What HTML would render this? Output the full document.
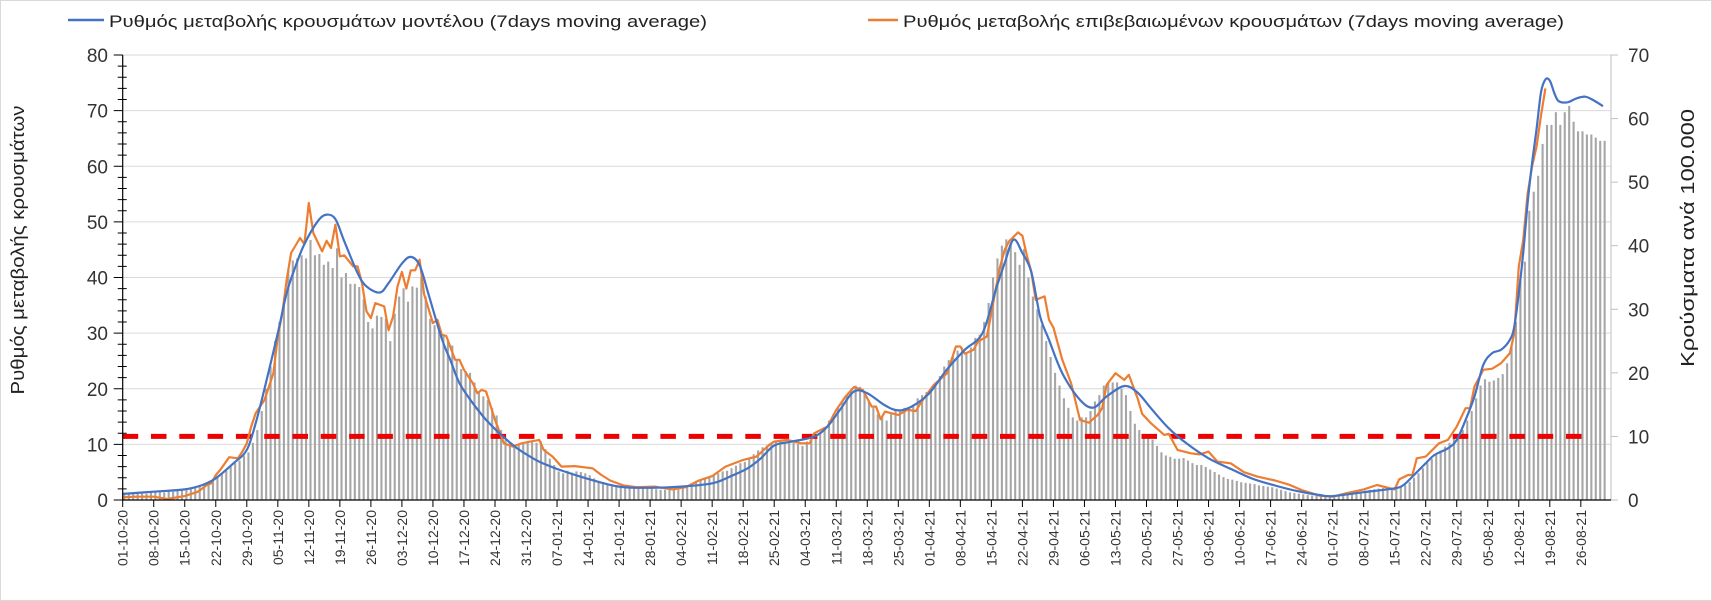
<!DOCTYPE html>
<html><head><meta charset="utf-8"><style>
html,body{margin:0;padding:0;background:#fff;}
svg{display:block;font-family:"Liberation Sans",sans-serif;}
</style></head><body>
<svg id="chart" width="1712" height="601" viewBox="0 0 1712 601" xmlns="http://www.w3.org/2000/svg">
<rect x="0.5" y="0.5" width="1711" height="600" fill="#fff" stroke="#d9d9d9"/>
<g id="grid"></g>
<g id="bars"></g>
<g id="lines"></g>
<g id="axes"></g>
<g>
 <line x1="68" y1="20" x2="104" y2="20" stroke="#4472c4" stroke-width="2.5"/>
 <text x="109" y="27" font-size="17" fill="#222" textLength="598" lengthAdjust="spacingAndGlyphs">Ρυθμός μεταβολής κρουσμάτων μοντέλου (7days moving average)</text>
 <line x1="868" y1="20" x2="898" y2="20" stroke="#ed7d31" stroke-width="2.5"/>
 <text x="903" y="27" font-size="17" fill="#222" textLength="661" lengthAdjust="spacingAndGlyphs">Ρυθμός μεταβολής επιβεβαιωμένων κρουσμάτων (7days moving average)</text>
</g>
<text transform="translate(24,250) rotate(-90)" text-anchor="middle" font-size="18" fill="#222" textLength="289" lengthAdjust="spacingAndGlyphs">Ρυθμός μεταβολής κρουσμάτων</text>
<text transform="translate(1694,238) rotate(-90)" text-anchor="middle" font-size="18" fill="#222" textLength="258" lengthAdjust="spacingAndGlyphs">Κρούσματα ανά 100.000</text>
</svg>
<script>
// ---- data ----
const startDate = "2020-10-01";
const dayCount = 335;
const weekLabels = ["01-10-20","08-10-20","15-10-20","22-10-20","29-10-20","05-11-20","12-11-20","19-11-20","26-11-20","03-12-20","10-12-20","17-12-20","24-12-20","31-12-20","07-01-21","14-01-21","21-01-21","28-01-21","04-02-21","11-02-21","18-02-21","25-02-21","04-03-21","11-03-21","18-03-21","25-03-21","01-04-21","08-04-21","15-04-21","22-04-21","29-04-21","06-05-21","13-05-21","20-05-21","27-05-21","03-06-21","10-06-21","17-06-21","24-06-21","01-07-21","08-07-21","15-07-21","22-07-21","29-07-21","05-08-21","12-08-21","19-08-21","26-08-21"];
const leftTicks = [0,10,20,30,40,50,60,70,80];
const rightTicks = [0,10,20,30,40,50,60,70];
const thresholdRight = 10;
// daily cases per 100k (right axis)
const cases = [
0.8,0.9,1.0,1.0,1.1,1.0,1.2, 1.2,1.3,1.2,1.4,1.3,1.5,1.6, 1.7,1.8,2.0,2.2,2.5,2.8,3.2, 3.8,4.2,4.6,5.2,5.8,6.2,7.0,
7.5,9,11,14,17.5,21,25, 28,31,36.2,37.7,38,38.5,38, 40.9,38.5,38.7,37,37.5,36.5,39.6, 35,35.7,34,34,33.5,31.6,28,
27,29,28.8,28.5,25,29.3,32, 33.3,31.2,33.6,33.4,35,32,28.5, 27.5,27,25.8,25,24.3,22,20.6, 20.3,20,18.5,17,16.3,15.7,14.5,
13.3,11,9.4,9,8.4,8.6,8.8, 9,9.1,9,9.2,8,6.5,5.5, 4.5,4.2,4.6,4.3,4.5,4.4,4.2, 3.9,3.4,3,2.7,2.5,2.4,2.2,
2.1,2,2,1.9,1.8,1.9,1.8, 1.8,1.7,1.6,1.6,1.7,1.8,1.9, 2,2.2,2.6,3,3.3,3.5,3.7, 3.8,4.2,4.5,4.6,5,5.4,5.8,
6,6.6,7.2,7.8,8.3,8.6,9, 9.2,9.4,9,9.3,9,8.8,8.5, 9.2,9.5,10,10.6,11.5,12.5,13.5, 14.5,15.5,16.5,17.5,18,17.8,17,
15.5,14.5,13.5,13,12.5,13.5,14, 14,14.5,14.5,15,16,16.5,17, 17.5,18.5,19.5,21,22,22.5,23.5, 24,23,24,25.5,26,28,31,
35,38,40,41,40.5,39,37, 39.5,35,32,30,27.5,25,22.5, 20,18,16,14.5,13,12.5,13, 13,14,15.5,16.5,18,18.5,18.5,
18.5,17.5,16.5,14,12,11,10, 10,9.5,8.5,7.5,7,6.8,6.5, 6.5,6.6,6.2,5.8,5.5,5.5,5.2, 4.8,4.4,4,3.6,3.3,3.2,3,
2.8,2.7,2.6,2.5,2.3,2.2,2.1, 2,1.8,1.6,1.4,1.2,1.1,1, 0.9,0.8,0.7,0.7,0.7,0.6,0.6, 0.7,0.8,0.9,1,1.1,1.2,1.3,
1.5,1.6,1.7,1.8,1.9,1.9,1.9, 2,2.2,2.4,2.8,3.5,4.2,5, 5.8,6.5,7.2,7.8,8.4,9,10, 10,11,12.5,14,16,18,19,
18.6,18.8,19.2,19.8,21.5,24.5,28, 35,37.5,45.5,48.5,51,56,59, 59,61,59,61,62,59.5,58, 58,57.5,57.5,57,56.5,56.5];
// model rate (left axis), sampled day index / value
const modelDays = [0,7,14,18,21,25,28,30,32,35,37,39,41,44,46,48,50,53,55,58,60,63,65,67,69,72,74,76,79,82,85,89,93,96,99,105,112,119,126,133,137,141,144,147,151,156,159,162,165,168,172,175,178,182,186,190,194,197,199,201,203,205,207,209,212,216,219,222,226,229,232,236,240,245,250,255,260,265,270,273,280,287,289,291,294,296,299,301,303,305,307,309,311,313,314,315,316,317,318,319,320,321,322,323,324,326,328,330,332,334];
const modelRate = [1.1,1.5,1.9,2.7,3.9,6.6,9.0,13.8,20,30,37.2,42,46,50.1,51.3,50.5,46.5,40.8,38.4,37.3,39,42.5,43.7,42.2,37,29,25,21,17.4,14.4,12,9.3,7.3,6.2,5.3,3.8,2.4,2.2,2.4,3,4.2,5.7,7.5,9.8,10.5,11.4,13.2,16.4,19.5,19.2,17,16.1,16.8,19.2,23.5,27,30,37.8,42.6,46.8,44.4,41,33,28.8,22.8,18,16.6,18.6,20.5,19.3,16.5,12.9,10.2,7.5,5.6,3.8,2.6,1.6,0.9,0.7,1.4,2.1,2.7,4.2,6.6,8.1,9.3,10.8,14.4,18.6,24.3,26.4,27,28.8,31.2,37.2,44.4,53.4,60.6,66.6,73.2,75.6,75.4,73.2,71.7,71.5,72.2,72.5,71.8,70.8];
// confirmed rate (left axis), sampled day index / value
const confDays = [0,3,7,10,14,17,19,20,21,22,23,24,26,27,28,29,30,32,34,35,36,37,38,40,41,42,43,45,46,47,48,49,50,52,53,54,55,56,57,59,60,61,62,63,64,65,66,67,68,70,71,72,73,75,76,77,79,80,81,82,84,86,88,90,92,94,95,97,99,102,106,108,110,113,116,120,124,127,130,133,136,140,143,146,147,150,153,155,156,159,161,163,165,167,169,170,171,172,175,177,179,180,183,186,188,189,190,192,193,195,196,197,198,199,200,202,203,204,205,206,208,209,210,212,214,216,218,220,221,222,224,226,227,229,230,232,235,236,238,241,243,245,247,250,253,256,260,263,266,270,273,276,280,283,287,288,290,291,292,294,297,299,300,301,303,304,305,307,309,311,313,314,315,316,317,318,319,320,321];
const confRate = [0.5,0.6,0.6,0.2,0.7,1.5,2.7,3,4.5,5.4,6.5,7.7,7.5,8.7,10.2,13.2,15.6,18,22.8,29.4,33.6,39.6,44.4,47.1,46,53.4,48,44.7,46.6,45.3,49.5,43.8,44,42,42,39,33.9,32.7,35.4,34.8,30.5,33,38.4,41,38,41.3,41.3,43.2,37,31.8,32.4,29.7,29.5,25.2,25.2,23.4,21,19.2,19.8,19.5,14.4,10.2,9.6,10.2,10.5,10.8,9,7.8,6,6.1,5.7,4.5,3.5,2.6,2.3,2.4,1.9,2.3,3.5,4.3,6,7.2,7.8,10,10.5,10.8,10.2,10.2,12,13.2,16.2,18.5,20.3,19.8,16.8,16.8,14.5,15.9,15.3,16.2,16,17.4,20.7,22.8,27.6,27.6,26.3,27,28.5,29.4,33.6,38,42,45,46.5,48.1,47.5,44,41,36,36.6,32.4,31,25.2,21,14.4,13.9,15.3,16.5,20.7,22.8,21.6,22.5,18.3,15.5,13.8,11.7,11.9,9,8.4,8.2,8.7,6.9,6.6,5,4.2,3.5,2.8,1.8,0.8,0.6,1.2,1.9,2.7,1.9,3.7,4.5,4.5,7.5,7.8,10.2,10.8,12,13.2,16.5,16.5,20.4,23.4,23.6,24.6,26.4,30,42,46.7,55,60,63.5,69,74];

// ---- scales ----
const X0 = 122.7, DX = 4.432, Y0 = 500, PLOT_TOP = 55, X_END = 1611;
const xDay = d => X0 + DX * d;
const yLeft = v => Y0 - v * (Y0 - PLOT_TOP) / 80;
const yRight = v => Y0 - v * (Y0 - PLOT_TOP) / 70;
const NS = "http://www.w3.org/2000/svg";
function mk(tag, parent, attrs) {
  const e = document.createElementNS(NS, tag);
  for (const k in attrs) e.setAttribute(k, attrs[k]);
  parent.appendChild(e);
  return e;
}
const grid = document.getElementById('grid');
const barsG = document.getElementById('bars');
const linesG = document.getElementById('lines');
const axes = document.getElementById('axes');

// gridlines
leftTicks.forEach(v => {
  if (v === 0) return;
  const g = mk('line', grid, {x1: X0, x2: X_END, y1: yLeft(v), y2: yLeft(v), stroke: '#d9d9d9', 'stroke-width': 1});
  
  
});

// bars
cases.forEach((v, i) => {
  const b = mk('rect', barsG, {x: xDay(i) + 0.6, y: yRight(v), width: 2.1, height: Math.max(0, Y0 - yRight(v)), fill: '#a6a6a6'});
  
  
});

// threshold
const th = mk('line', linesG, {x1: X0, x2: 1594, y1: yRight(thresholdRight), y2: yRight(thresholdRight), stroke: '#ee0000', 'stroke-width': 5, 'stroke-dasharray': '15.5 12.8'});



function smoothPath(days, vals) {
  const p = days.map((d, i) => [xDay(d), yLeft(vals[i])]);
  let s = 'M' + p[0][0].toFixed(1) + ',' + p[0][1].toFixed(1);
  for (let i = 0; i < p.length - 1; i++) {
    const p0 = p[i - 1] || p[i], p1 = p[i], p2 = p[i + 1], p3 = p[i + 2] || p2;
    const t = 1 / 6;
    const c1 = [p1[0] + (p2[0] - p0[0]) * t, p1[1] + (p2[1] - p0[1]) * t];
    const c2 = [p2[0] - (p3[0] - p1[0]) * t, p2[1] - (p3[1] - p1[1]) * t];
    s += 'C' + c1[0].toFixed(1) + ',' + c1[1].toFixed(1) + ' ' + c2[0].toFixed(1) + ',' + c2[1].toFixed(1) + ' ' + p2[0].toFixed(1) + ',' + p2[1].toFixed(1);
  }
  return s;
}
function polyPath(days, vals) {
  return days.map((d, i) => (i ? 'L' : 'M') + xDay(d).toFixed(1) + ',' + yLeft(vals[i]).toFixed(1)).join('');
}
const oc = mk('path', linesG, {d: polyPath(confDays, confRate), fill: 'none', stroke: '#ed7d31', 'stroke-width': 2.2, 'stroke-linejoin': 'round'});


const bm = mk('path', linesG, {d: smoothPath(modelDays, modelRate), fill: 'none', stroke: '#4472c4', 'stroke-width': 2.2});



// left axis
const la = mk('line', axes, {x1: X0, x2: X0, y1: PLOT_TOP, y2: Y0, stroke: '#000', 'stroke-width': 1.2});


for (let v = 0; v <= 80; v += 2) {
  const major = v % 10 === 0;
  const t = mk('line', axes, {x1: major ? X0 - 9 : X0 - 5, x2: major ? X0 : X0 + 4, y1: yLeft(v), y2: yLeft(v), stroke: '#000', 'stroke-width': 1});
  
  
}
leftTicks.forEach(v => {
  const t = mk('text', axes, {x: 108, y: yLeft(v) + 7, 'text-anchor': 'end', 'font-size': 19, fill: '#333'});
  t.textContent = v;
  
  
});
// right axis
const ra = mk('line', axes, {x1: X_END, x2: X_END, y1: PLOT_TOP, y2: Y0, stroke: '#bfbfbf', 'stroke-width': 1});


rightTicks.forEach(v => {
  const tk = mk('line', axes, {x1: X_END, x2: X_END + 7, y1: yRight(v), y2: yRight(v), stroke: '#bfbfbf', 'stroke-width': 1});
  
  
  const t = mk('text', axes, {x: 1628, y: yRight(v) + 7, 'font-size': 19, fill: '#333'});
  t.textContent = v;
  
  
});
// x axis
const xa = mk('line', axes, {x1: X0, x2: X_END, y1: Y0, y2: Y0, stroke: '#000', 'stroke-width': 1.2});


weekLabels.forEach((lab, i) => {
  const x = xDay(i * 7);
  const tk = mk('line', axes, {x1: x, x2: x, y1: Y0, y2: Y0 + 7, stroke: '#000', 'stroke-width': 1});
  
  
  const t = mk('text', axes, {transform: 'translate(' + (x + 5) + ',' + (Y0 + 10) + ') rotate(-90)', 'text-anchor': 'end', 'font-size': 14, fill: '#333'});
  t.textContent = lab;
  
  
});
</script>
</body></html>
